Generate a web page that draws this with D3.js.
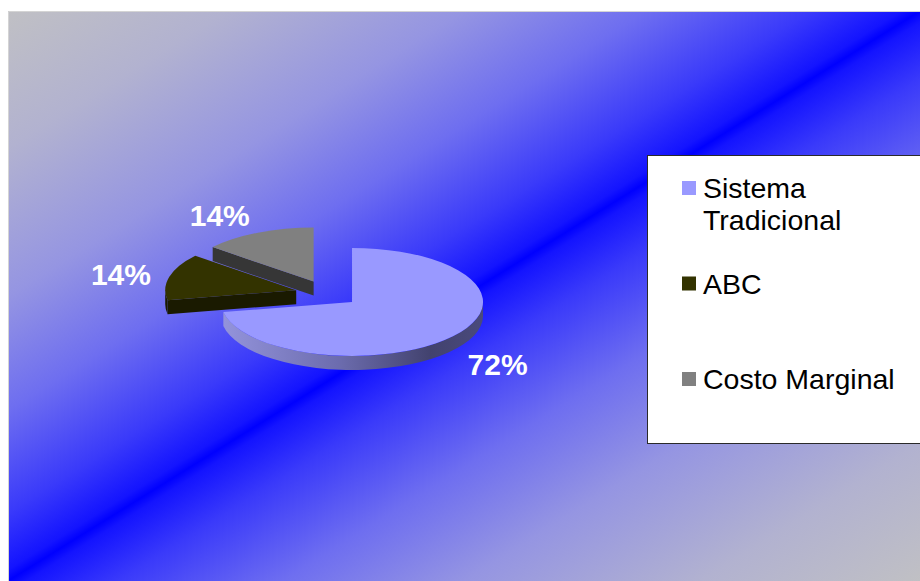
<!DOCTYPE html>
<html>
<head>
<meta charset="utf-8">
<script src="https://cdn.jsdelivr.net/npm/d3@7/dist/d3.min.js"></script>
<style>
  html, body { margin: 0; padding: 0; background: #ffffff; }
  svg { display: block; }
</style>
</head>
<body>
<svg id="chart" width="920" height="581"></svg>
<script>
// Cost system share
const categories = ["Sistema Tradicional", "ABC", "Costo Marginal"];
const values = [72, 14, 14];
const topColors = ["#9999ff", "#333300", "#808080"];
const wallColors = ["url(#bigWall)", "#1a1a00", "#363636"];

const W = 920, H = 581;
const svg = d3.select("#chart");
const defs = svg.append("defs");

// Background: diagonal gray - blue - gray fill
const bg = defs.append("linearGradient").attr("id", "bgGrad")
  .attr("x1", 0).attr("y1", 0).attr("x2", 1).attr("y2", 1);
[[0, "#c0c0c4"], [0.12, "#b2b2d0"], [0.25, "#9595e2"], [0.35, "#6e6ef0"],
 [0.44, "#3a3afa"], [0.49, "#1414ff"], [0.5, "#0000ff"], [0.51, "#1414ff"],
 [0.56, "#3a3afa"], [0.65, "#6e6ef0"], [0.75, "#9595e2"], [0.88, "#b2b2d0"], [1, "#c0c0c4"]]
  .forEach(([o, c]) => bg.append("stop").attr("offset", o).attr("stop-color", c));

const plot = { x: 8, y: 11, w: 912, h: 570 };
svg.append("rect")
  .attr("x", plot.x).attr("y", plot.y).attr("width", plot.w).attr("height", plot.h)
  .attr("fill", "url(#bgGrad)");
svg.append("path")
  .attr("d", `M${plot.x + 0.5},${plot.y + plot.h}V${plot.y + 0.5}H${W}`)
  .attr("fill", "none").attr("stroke", "#d4d4d4").attr("stroke-width", 1);

// Pie geometry (tilted, extruded)
const cx = 327.3, cy = 293.5, rx = 131, ry = 54, depth = 14, explode = 0.245;

const pie = d3.pie().sort(null).value(d => d)(values);
const total = d3.sum(values);
const pct = d3.format(".0%");
const color = d3.scaleOrdinal().domain(categories).range(topColors);
const wall = d3.scaleOrdinal().domain(categories).range(wallColors);

const slices = pie.map((p, i) => {
  const mid = (p.startAngle + p.endAngle) / 2;
  return {
    ...p, name: categories[i], mid,
    ox: explode * rx * Math.sin(mid),
    oy: -explode * ry * Math.cos(mid)
  };
});

function pt(s, a, r = 1, dz = 0) {
  return [cx + s.ox + r * rx * Math.sin(a), cy + s.oy - r * ry * Math.cos(a) + dz];
}

// Shading across the front rim of the large slice
const big = slices[0];
const bw = defs.append("linearGradient").attr("id", "bigWall")
  .attr("gradientUnits", "userSpaceOnUse")
  .attr("x1", cx + big.ox - rx).attr("y1", 0)
  .attr("x2", cx + big.ox + rx).attr("y2", 0);
[[0, "#9494dc"], [0.45, "#6c6cae"], [0.8, "#42426e"], [1, "#4a4a7c"]]
  .forEach(([o, c]) => bw.append("stop").attr("offset", o).attr("stop-color", c));

function topPath(s) {
  const c = pt(s, 0, 0), a = pt(s, s.startAngle), b = pt(s, s.endAngle);
  const large = (s.endAngle - s.startAngle) > Math.PI ? 1 : 0;
  return `M${c}L${a}A${rx},${ry} 0 ${large} 1 ${b}Z`;
}
function rimPath(s) {
  const b0 = Math.max(s.startAngle, Math.PI / 2), b1 = Math.min(s.endAngle, 3 * Math.PI / 2);
  if (b1 <= b0) return null;
  const a = pt(s, b0), b = pt(s, b1), bd = pt(s, b1, 1, depth), ad = pt(s, b0, 1, depth);
  return `M${a}A${rx},${ry} 0 0 1 ${b}L${bd}A${rx},${ry} 0 0 0 ${ad}Z`;
}
function radialPath(s, a) {
  const c = pt(s, 0, 0), p = pt(s, a), pd = pt(s, a, 1, depth), cd = pt(s, 0, 0, depth);
  return `M${c}L${p}L${pd}L${cd}Z`;
}

// Back slices first
const order = slices.slice().sort((a, b) => (-Math.cos(a.mid)) - (-Math.cos(b.mid)));
const g = svg.append("g");
order.forEach(s => {
  const sg = g.append("g");
  if (Math.sin(s.startAngle) < -1e-6)
    sg.append("path").attr("d", radialPath(s, s.startAngle)).attr("fill", wall(s.name));
  if (Math.sin(s.endAngle) > 1e-6)
    sg.append("path").attr("d", radialPath(s, s.endAngle)).attr("fill", wall(s.name));
  const rim = rimPath(s);
  if (rim) sg.append("path").attr("d", rim).attr("fill", wall(s.name));
  sg.append("path").attr("d", topPath(s)).attr("fill", color(s.name));
});

// Percentage labels outside each slice
const labelSize = 30, gapX = 19, gapY = 15;
const clamp = v => Math.max(-1, Math.min(1, v));
slices.forEach(s => {
  const t = svg.append("text")
    .attr("font-family", "Arial, 'Liberation Sans', sans-serif")
    .attr("font-weight", "bold").attr("font-size", labelSize)
    .attr("fill", "#ffffff").attr("text-anchor", "middle")
    .text(pct(s.value / total));
  const hw = t.node().getComputedTextLength() / 2, hh = labelSize * 0.36;
  const sx = Math.sin(s.mid), sy = -Math.cos(s.mid);
  const p = pt(s, s.mid, 1, depth / 2);
  const lx = p[0] + gapX * sx + hw * clamp(sx * 4);
  const ly = p[1] + gapY * sy + hh * clamp(sy * 2);
  t.attr("x", lx).attr("y", ly + hh);
});

// Legend
const lg = { x: 647, y: 155, w: 290, h: 288 };
svg.append("rect")
  .attr("x", lg.x + 0.5).attr("y", lg.y + 0.5).attr("width", lg.w).attr("height", lg.h)
  .attr("fill", "#ffffff").attr("stroke", "#2a2a2a").attr("stroke-width", 1);

const legendSize = 28.5, lineH = 32, firstBase = 198, step = 95.5, textX = 703, maxW = 210;
categories.forEach((name, i) => {
  const base = firstBase + i * step;
  svg.append("rect")
    .attr("x", 682).attr("y", base - 17).attr("width", 14).attr("height", 14)
    .attr("fill", color(name));
  const t = svg.append("text")
    .attr("x", textX).attr("y", base)
    .attr("font-family", "Arial, 'Liberation Sans', sans-serif")
    .attr("font-size", legendSize).attr("fill", "#000000");
  // simple word wrap
  const words = name.split(" ");
  let line = [], ts = t.append("tspan").attr("x", textX).attr("y", base), n = 0;
  words.forEach(w => {
    line.push(w);
    ts.text(line.join(" "));
    if (ts.node().getComputedTextLength() > maxW && line.length > 1) {
      line.pop(); ts.text(line.join(" "));
      line = [w]; n++;
      ts = t.append("tspan").attr("x", textX).attr("y", base + n * lineH).text(w);
    }
  });
});
</script>
</body>
</html>
